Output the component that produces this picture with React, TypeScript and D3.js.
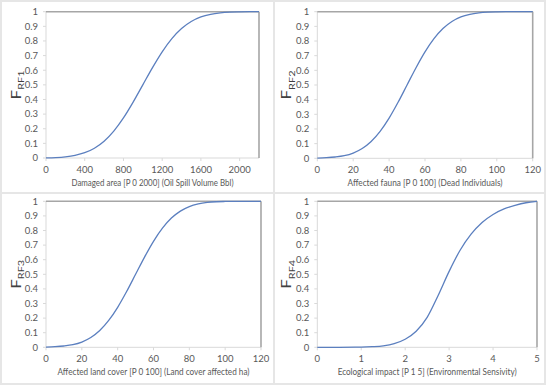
import React from 'react';
import * as d3 from 'd3';

// values
const dmgX = [0, 100, 200, 300, 400, 500, 600, 700, 800, 900, 1000, 1100, 1200, 1300, 1400, 1500, 1600, 1700, 1800, 1900, 2000, 2100, 2200];
const dmgY = [0.001, 0.003, 0.008, 0.018, 0.036, 0.067, 0.115, 0.184, 0.274, 0.382, 0.5, 0.618, 0.726, 0.816, 0.885, 0.933, 0.964, 0.982, 0.992, 0.997, 0.999, 1, 1];

const faunaX = [0, 5, 10, 15, 20, 25, 30, 35, 40, 45, 50, 55, 60, 65, 70, 75, 80, 85, 90, 95, 100, 105, 110, 115, 120];
const faunaY = [0.001, 0.004, 0.009, 0.018, 0.036, 0.067, 0.115, 0.184, 0.274, 0.382, 0.5, 0.618, 0.726, 0.816, 0.885, 0.933, 0.964, 0.982, 0.992, 0.997, 0.999, 1, 1, 1, 1];

const landX = [0, 5, 10, 15, 20, 25, 30, 35, 40, 45, 50, 55, 60, 65, 70, 75, 80, 85, 90, 95, 100, 105, 110, 115, 120];
const landY = [0.001, 0.004, 0.009, 0.018, 0.036, 0.067, 0.115, 0.184, 0.274, 0.382, 0.5, 0.618, 0.726, 0.816, 0.885, 0.933, 0.964, 0.982, 0.992, 0.997, 0.999, 1, 1, 1, 1];

const ecoX = [0, 0.5, 1, 1.25, 1.5, 1.75, 2, 2.25, 2.5, 2.75, 3, 3.25, 3.5, 3.75, 4, 4.25, 4.5, 4.75, 5];
const ecoY = [0, 0, 0.001, 0.004, 0.01, 0.025, 0.055, 0.11, 0.205, 0.355, 0.52, 0.665, 0.775, 0.855, 0.91, 0.948, 0.972, 0.99, 1];

const yTicks = [0, 0.1, 0.2, 0.3, 0.4, 0.5, 0.6, 0.7, 0.8, 0.9, 1];
const dmgTicks = [0, 400, 800, 1200, 1600, 2000];
const pctTicks = [0, 20, 40, 60, 80, 100, 120];
const ecoTicks = [0, 1, 2, 3, 4, 5];

const titles = [
  'Damaged area [P 0 2000] (Oil Spill Volume Bbl)',
  'Affected fauna [P 0 100] (Dead Individuals)',
  'Affected land cover [P 0 100] (Land cover affected ha)',
  'Ecological impact [P 1 5] (Environmental Sensivity)'
];
const subs = ['RF1', 'RF2', 'RF3', 'RF4'];

const panels = [
  { xs: dmgX, ys: dmgY, ticks: dmgTicks, dom: [0, 2200], box: [46, 11.7, 259, 158], fx: 20.5, tw: 162 },
  { xs: faunaX, ys: faunaY, ticks: pctTicks, dom: [0, 120], box: [317.3, 11.7, 532.7, 158.3], fx: 291, tw: 155 },
  { xs: landX, ys: landY, ticks: pctTicks, dom: [0, 120], box: [46, 201.3, 261, 347.3], fx: 20.5, tw: 192 },
  { xs: ecoX, ys: ecoY, ticks: ecoTicks, dom: [0, 5], box: [317.3, 201.3, 537, 347.3], fx: 291, tw: 179 }
];

const font = 'Lato, "Open Sans", sans-serif';
const txt = '#595959';

const Panel = ({ p, i }: { p: any; i: number }) => {
  const [l, t, r, b] = p.box;
  const x = d3.scaleLinear().domain(p.dom).range([l, r]);
  const y = d3.scaleLinear().domain([0, 1]).range([b, t]);
  const line = d3
    .line<number>()
    .x((_, k) => x(p.xs[k]))
    .y((d) => y(d))
    .curve(d3.curveMonotoneX);
  const cy = (t + b) / 2;
  return (
    <g>
      {/* axes */}
      <line x1={l} y1={b} x2={r} y2={b} stroke="#d9d9d9" strokeWidth={1} />
      <line x1={l} y1={t} x2={l} y2={b} stroke="#d9d9d9" strokeWidth={1} />
      {p.ticks.map((v: number) => (
        <g key={'x' + v}>
          <line x1={x(v)} x2={x(v)} y1={b} y2={b + 3} stroke="#d9d9d9" />
          <text x={x(v)} y={b + 14.5} textAnchor="middle" fontSize={9.5} fill={txt} fontFamily={font}>
            {v}
          </text>
        </g>
      ))}
      {yTicks.map((v) => (
        <g key={'y' + v}>
          <line x1={l - 3} x2={l} y1={y(v)} y2={y(v)} stroke="#d9d9d9" />
          <text x={l - 8} y={y(v) + 3.3} textAnchor="end" fontSize={9.5} fill={txt} fontFamily={font}>
            {v}
          </text>
        </g>
      ))}
      {/* frame top/right */}
      <line x1={l} y1={t} x2={r} y2={t} stroke="#a6a6a6" strokeWidth={1.6} />
      <line x1={r} y1={t} x2={r} y2={b} stroke="#a6a6a6" strokeWidth={1.6} />
      <path d={line(p.ys) || ''} fill="none" stroke="#5b7fbf" strokeWidth={1.3} />
      <text
        x={(l + r) / 2}
        y={b + 28}
        textAnchor="middle"
        fontSize={9}
        fill={txt}
        fontFamily={font}
        textLength={p.tw}
        lengthAdjust="spacingAndGlyphs"
      >
        {titles[i]}
      </text>
      <text
        transform={`translate(${p.fx},${cy}) rotate(-90) scale(1,0.75)`}
        textAnchor="middle"
        fill="#404040"
        fontFamily={font}
      >
        <tspan fontSize={17}>F</tspan>
        <tspan fontSize={11} dy={5}>
          {subs[i]}
        </tspan>
      </text>
    </g>
  );
};

export default function App() {
  return (
    <svg
      width={550}
      height={387}
      style={{ position: 'absolute', left: 0, top: 0, background: '#fff' }}
    >
      <rect x={1} y={1} width={544} height={383} fill="none" stroke="#e6e6e6" strokeWidth={2} />
      <line x1={274} y1={1} x2={274} y2={384} stroke="#e6e6e6" strokeWidth={2} />
      <line x1={1} y1={193} x2={545} y2={193} stroke="#e6e6e6" strokeWidth={2} />
      {panels.map((p, i) => (
        <Panel key={i} p={p} i={i} />
      ))}
    </svg>
  );
}
